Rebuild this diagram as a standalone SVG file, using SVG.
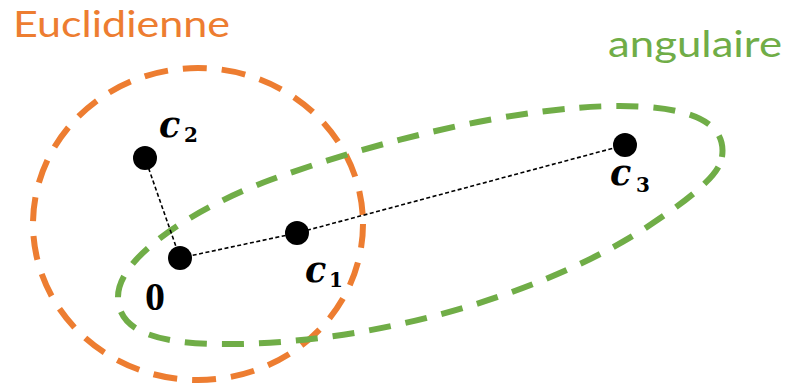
<svg xmlns="http://www.w3.org/2000/svg" width="785" height="386" viewBox="0 0 785 386">
  <style>
    .euc { fill: none; stroke: #ED7D31; stroke-width: 6; stroke-dasharray: 24 15; }
    .ang { fill: none; stroke: #70AD47; stroke-width: 6; stroke-dasharray: 22 15; }
    .link { fill: none; stroke: #000; stroke-width: 1.6; stroke-dasharray: 4 2.5; }
    .pt { fill: #000; }
    .title { font-family: Lato, "Liberation Sans", sans-serif; font-size: 36px; }
    .var { font-family: "DejaVu Serif", "Liberation Serif", serif; font-weight: bold; font-style: italic; font-size: 35px; fill: #000; }
    .sub { font-family: "DejaVu Serif", "Liberation Serif", serif; font-weight: bold; font-size: 20px; fill: #000; }
    .zero { font-family: "Liberation Serif", serif; font-weight: bold; font-size: 40px; fill: #000; }
  </style>
  <g id="euclidienne">
    <ellipse class="euc" cx="198" cy="224" rx="165" ry="156"/>
    <text class="title" x="13" y="37" fill="#ED7D31" textLength="217" lengthAdjust="spacingAndGlyphs">Euclidienne</text>
  </g>
  <g id="angulaire">
    <path class="ang" d="M 722 157 C 728 118, 680 106, 620 106 C 520 106, 380 140, 270 180 C 200 206, 118 255, 118 297 C 118 340, 180 345, 240 344 C 400 340, 560 285, 650 225 C 700 192, 720 172, 722 157 Z"/>
    <text class="title" x="608" y="57" fill="#70AD47" textLength="174" lengthAdjust="spacingAndGlyphs">angulaire</text>
  </g>
  <g id="connectors">
    <line class="link" x1="180" y1="258" x2="145" y2="158"/>
    <polyline class="link" points="180,258 297,233 625,145"/>
  </g>
  <g id="origin">
    <circle class="pt" cx="180" cy="258" r="12"/>
    <text class="zero" x="145" y="310">0</text>
  </g>
  <g id="c1">
    <circle class="pt" cx="297" cy="233" r="12"/>
    <text class="var" x="305" y="282">c</text>
    <text class="sub" x="329" y="287">1</text>
  </g>
  <g id="c2">
    <circle class="pt" cx="145" cy="158" r="12"/>
    <text class="var" x="159" y="137">c</text>
    <text class="sub" x="184" y="142">2</text>
  </g>
  <g id="c3">
    <circle class="pt" cx="625" cy="145" r="12"/>
    <text class="var" x="610" y="185">c</text>
    <text class="sub" x="636" y="192">3</text>
  </g>
</svg>
